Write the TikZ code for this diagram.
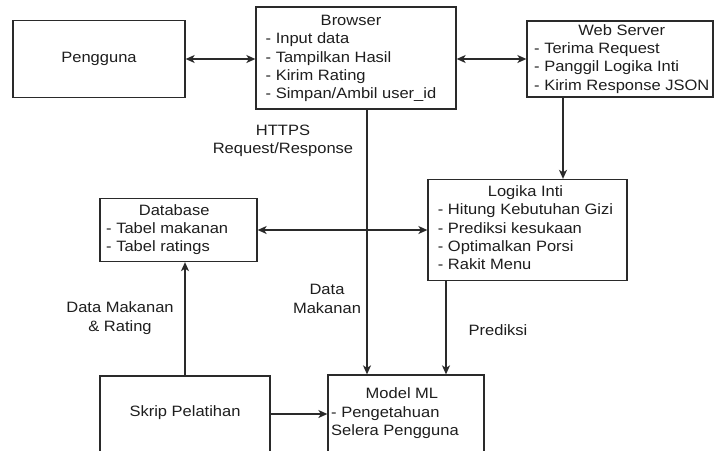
\documentclass[tikz,border=0pt]{standalone}
\usepackage{fontspec}
\setmainfont{Liberation Sans}[FakeStretch=1.1]
\usetikzlibrary{arrows.meta}
\definecolor{ln}{HTML}{2A2A2A}
\definecolor{tx}{HTML}{1E1E1E}
\tikzset{
  >={Stealth[length=9pt,width=8pt,inset=2.5pt]},
  box/.style={draw=ln, line width=1.3pt, rectangle, inner sep=0pt},
  txt/.style={text=tx, inner sep=0pt, font=\fontsize{15}{18.3}\selectfont},
  conn/.style={draw=ln, line width=1.3pt, ->},
  bconn/.style={draw=ln, line width=1.3pt, <->}
}
\newcommand{\listbox}[2]{\begin{tabular}{@{}l@{}}\multicolumn{1}{@{}c@{}}{#1}\\#2\end{tabular}}
\begin{document}
\begin{tikzpicture}[x=1pt,y=-1pt]
\useasboundingbox (0,0) rectangle (715,450);
\fill[white] (0,0) rectangle (715,450);
% boxes
\node[box, minimum width=172pt, minimum height=77pt] (pg) at (99,59) {};
\node[box, minimum width=200pt, minimum height=102pt] (br) at (356,58) {};
\node[box, minimum width=186pt, minimum height=76pt] (ws) at (620,59) {};
\node[box, minimum width=199pt, minimum height=101pt] (li) at (527.5,230) {};
\node[box, minimum width=157pt, minimum height=63pt] (db) at (178.5,230) {};
\node[box, minimum width=156pt, minimum height=77pt] (ml) at (406,413.5) {};
\node[box, minimum width=170pt, minimum height=76pt] (sk) at (185,414) {};
% texts
\node[txt] (pgt) at (99,59) {Pengguna};
\node[txt] (brt) at (351,58.5) {\listbox{Browser}{- Input data\\- Tampilkan Hasil\\- Kirim Rating\\- Simpan/Ambil user\_id}};
\node[txt, anchor=west] (wst) at (534,59) {\listbox{Web Server}{- Terima Request\\- Panggil Logika Inti\\- Kirim Response JSON}};
\node[txt] (lit) at (525.5,229.5) {\listbox{Logika Inti}{- Hitung Kebutuhan Gizi\\- Prediksi kesukaan\\- Optimalkan Porsi\\- Rakit Menu}};
\node[txt, anchor=west] (dbt) at (106,230) {\listbox{\hspace{14pt}Database}{- Tabel makanan\\- Tabel ratings}};
\node[txt, anchor=west] (mlt) at (331,413.5) {\listbox{\hspace{14pt}Model ML}{- Pengetahuan\\Selera Pengguna}};
\node[txt] (skt) at (185,413) {Skrip Pelatihan};
% helper x positions
\coordinate (c1) at (563,0);
\coordinate (c2) at (367,0);
\coordinate (c3) at (446,0);
% connectors
\draw[bconn] (pg.east) -- (pg.east -| br.west);
\draw[bconn] (ws.west -| br.east) -- (ws.west);
\draw[conn] (ws.south -| c1) -- (li.north -| c1);
\draw[conn] (br.south -| c2) -- (ml.north -| c2);
\draw[conn] (li.south -| c3) -- (ml.north -| c3);
\draw[bconn] (db.east) -- (db.east -| li.west);
\draw[conn] (sk.north) -- (sk.north |- db.south);
\draw[conn] (sk.east) -- (sk.east -| ml.west);
% labels
\node[txt, align=center] (l1) at (283,141) {HTTPS\\Request/Response};
\node[txt, align=center] (l2) at (327,299) {Data\\Makanan};
\node[txt, align=center] (l3) at (120,318) {Data Makanan\\\& Rating};
\node[txt] (l4) at (498,330) {Prediksi};
\end{tikzpicture}
\end{document}
